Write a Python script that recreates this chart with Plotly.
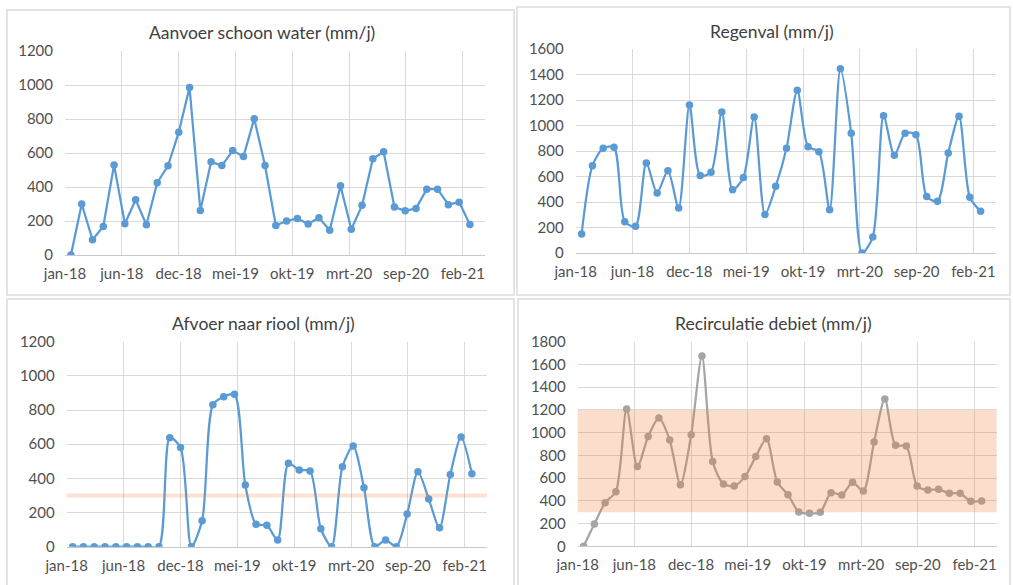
import plotly.graph_objects as go

# ---------------- data ----------------
months = list(range(38))  # monthly points, jan-18 .. feb-21
tick_labels = ["jan-18", "jun-18", "dec-18", "mei-19", "okt-19", "mrt-20", "sep-20", "feb-21"]

aanvoer = [0, 300, 90, 168, 530, 184, 325, 178, 425, 525, 722, 986, 262, 548, 526, 614,
           579, 802, 526, 174, 200, 215, 182, 219, 145, 407, 151, 292, 566, 607, 282, 260,
           274, 387, 387, 296, 311, 180]

regenval = [150, 685, 821, 829, 246, 209, 706, 471, 646, 353, 1161, 607, 633, 1106, 497, 593,
            1067, 301, 523, 821, 1276, 834, 795, 340, 1446, 939, 0, 125, 1077, 766, 939, 928,
            444, 405, 784, 1072, 437, 327]

afvoer = [0, 0, 0, 0, 0, 0, 0, 0, 0, 638, 581, 0, 152, 831, 878, 892,
          361, 131, 125, 39, 488, 449, 443, 105, 0, 468, 589, 345, 0, 39, 0, 191,
          439, 279, 111, 423, 642, 427]

recirculatie = [0, 196, 384, 481, 1208, 701, 965, 1129, 935, 542, 982, 1674, 745, 548, 531, 613,
                789, 947, 566, 454, 302, 290, 299, 472, 451, 563, 487, 918, 1296, 888, 882, 531,
                495, 501, 466, 466, 396, 399]

riool_limit = 300
band_low, band_high = 300, 1200

titles = ["Aanvoer schoon water (mm/j)", "Regenval (mm/j)",
          "Afvoer naar riool (mm/j)", "Recirculatie debiet (mm/j)"]
y_max = [1200, 1600, 1200, 1800]

# ---------------- styling / layout ----------------
W, H = 1013, 585
BLUE = "#5B9BD5"
GRAY = "#A5A5A5"
FONT = "Lato"
TICK_COLOR = "#505050"

def px_x(v):
    return v / W

def px_y(v):
    return 1 - v / H

# plot areas in pixels (left, right, top, bottom)
areas = [
    (65, 485, 51, 255),
    (575.7, 995.7, 49, 253),
    (66.7, 487, 341.7, 546.7),
    (577.7, 996.7, 341.7, 546.3),
]
title_pos = [(262, 32), (771.7, 31), (263, 323), (773, 323)]
panels = [(7, 514, 10, 295), (517, 1010, 7, 295), (7, 514, 299, 600), (518, 1010, 299, 600)]

x_start = -0.55
tick_step = 5.27
x_range = [x_start, 38.4]
tick_pos = [x_start + tick_step * k for k in range(len(tick_labels))]

series = [aanvoer, regenval, afvoer, recirculatie]
colors = [BLUE, BLUE, BLUE, GRAY]
shapes_kind = ["linear", "spline", "spline", "spline"]

fig = go.Figure()
layout = dict(
    template="none",
    width=W, height=H,
    margin=dict(l=0, r=0, t=0, b=0, autoexpand=False),
    paper_bgcolor="white", plot_bgcolor="white",
    showlegend=False,
    font=dict(family=FONT, color=TICK_COLOR, size=15),
)
shapes = []
annotations = []

for i in range(4):
    n = i + 1
    xa = "xaxis" if n == 1 else f"xaxis{n}"
    ya = "yaxis" if n == 1 else f"yaxis{n}"
    xr = "x" if n == 1 else f"x{n}"
    yr = "y" if n == 1 else f"y{n}"
    l, r, t, b = areas[i]
    fig.add_trace(go.Scatter(
        x=months, y=series[i], mode="lines+markers",
        line=dict(color=colors[i], width=2.25, shape=shapes_kind[i], smoothing=0.75),
        marker=dict(color=colors[i], size=7.5),
        xaxis=xr, yaxis=yr,
    ))
    layout[xa] = dict(
        domain=[px_x(l), px_x(r)], anchor=yr, range=x_range, automargin=False,
        tickmode="array", tickvals=tick_pos, ticktext=tick_labels,
        showgrid=True, gridcolor="#D9D9D9", gridwidth=1,
        showline=True, linecolor="#C8C8C8", linewidth=1,
        zeroline=False, ticks="", ticklabelstandoff=5,
        tickfont=dict(family=FONT, size=15, color=TICK_COLOR),
        fixedrange=True,
    )
    layout[ya] = dict(
        domain=[px_y(b), px_y(t)], anchor=xr, range=[0, y_max[i]], automargin=False,
        dtick=200, tick0=0,
        showgrid=True, gridcolor="#D9D9D9", gridwidth=1,
        zeroline=False, showline=False, ticks="", ticklabelstandoff=11,
        tickfont=dict(family=FONT, size=15, color=TICK_COLOR),
        fixedrange=True,
    )
    annotations.append(dict(
        text=titles[i], x=px_x(title_pos[i][0]), y=px_y(title_pos[i][1]),
        xref="paper", yref="paper", xanchor="center", yanchor="middle",
        showarrow=False, font=dict(family=FONT, size=17.5, color="#404040"),
    ))
    pl, pr, pt, pb = panels[i]
    shapes.append(dict(
        type="rect", xref="paper", yref="paper",
        x0=px_x(pl), x1=px_x(pr), y0=px_y(pb), y1=px_y(pt),
        line=dict(color="#DCDCDC", width=1.5), fillcolor="rgba(0,0,0,0)", layer="below",
    ))

# threshold line in "Afvoer naar riool"
shapes.append(dict(
    type="line", xref="x3 domain", yref="y3", x0=0, x1=1,
    y0=riool_limit, y1=riool_limit,
    line=dict(color="rgba(237,125,49,0.22)", width=4), layer="above",
))
# band in "Recirculatie debiet"
shapes.append(dict(
    type="rect", xref="x4 domain", yref="y4", x0=0, x1=1,
    y0=band_low, y1=band_high,
    line=dict(width=0), fillcolor="rgba(237,125,49,0.25)", layer="above",
))

layout["shapes"] = shapes
layout["annotations"] = annotations
fig.update_layout(**layout)
fig.write_html("out.html")
